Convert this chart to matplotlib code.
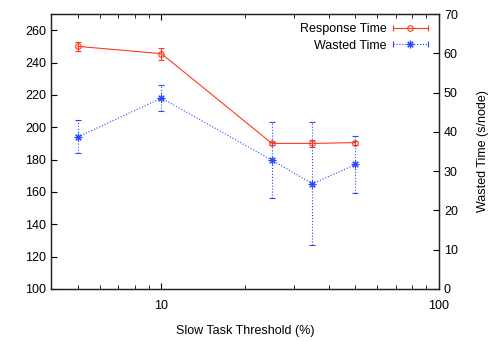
import matplotlib
matplotlib.use("Agg")
import matplotlib.pyplot as plt
from matplotlib.lines import Line2D
from matplotlib.legend_handler import HandlerBase
from matplotlib.ticker import FixedLocator, FixedFormatter, LogLocator, NullFormatter

plt.rcParams['font.family'] = ['Liberation Sans', 'DejaVu Sans']

thresholds = [5, 10, 25, 35, 50]
response = [250.0, 245.5, 190.0, 190.0, 190.5]
response_err = [3.0, 3.7, 1.0, 2.2, 1.2]
wasted = [38.7, 48.6, 32.8, 26.8, 31.7]
wasted_err = [4.2, 3.3, 9.6, 15.7, 7.3]

x_ticks = [10, 100]
x_ticklabels = ["10", "100"]
left_ticks = list(range(100, 261, 20))
right_ticks = list(range(0, 71, 10))

RED = '#ff3a20'
BLUE = '#2848ff'


class HandlerCapLine(HandlerBase):
    def __init__(self, color, ls, marker, ms, mfc):
        super().__init__()
        self.color, self.ls, self.marker, self.ms, self.mfc = color, ls, marker, ms, mfc

    def create_artists(self, legend, orig_handle, xdescent, ydescent, width, height, fontsize, trans):
        y = height / 2 - ydescent
        x0, x1 = -xdescent, width - xdescent
        line = Line2D([x0, x1], [y, y], color=self.color, ls=self.ls, lw=0.8)
        caps = Line2D([x0, x1], [y, y], color=self.color, ls='none', marker='|',
                      markersize=5, markeredgewidth=0.8)
        mk = Line2D([(x0 + x1) / 2], [y], color=self.color, ls='none', marker=self.marker,
                    markersize=self.ms, markerfacecolor=self.mfc, markeredgewidth=0.8)
        for a in (line, caps, mk):
            a.set_transform(trans)
        return [line, caps, mk]


fig = plt.figure(figsize=(5.0, 3.42), dpi=100)
ax = fig.add_axes([0.102, 0.155, 0.776, 0.804])
ax2 = ax.twinx()

ax.set_xscale('log')
ax.set_xlim(4, 100)
ax.set_ylim(100, 270)
ax2.set_ylim(0, 70)

e1 = ax.errorbar(thresholds, response, yerr=response_err, color=RED, lw=0.8,
                 marker='o', markersize=4, markerfacecolor='none', markeredgewidth=0.8,
                 capsize=2.5, capthick=0.8, elinewidth=0.8)
e2 = ax2.errorbar(thresholds, wasted, yerr=wasted_err, color=BLUE, lw=0.8, ls=':',
                  marker=(8, 2, 0), markersize=5.5, markeredgewidth=0.8,
                  capsize=2.5, capthick=0.8, elinewidth=0.8)
for lc in e2[2]:
    lc.set_linestyle(':')

ax.xaxis.set_major_locator(FixedLocator(x_ticks))
ax.xaxis.set_major_formatter(FixedFormatter(x_ticklabels))
ax.xaxis.set_minor_locator(LogLocator(base=10, subs=range(2, 10)))
ax.xaxis.set_minor_formatter(NullFormatter())
ax.set_yticks(left_ticks)
ax2.set_yticks(right_ticks)

ax.tick_params(axis='x', which='both', direction='in', top=True, bottom=True, labelsize=9, pad=8)
ax.tick_params(axis='x', which='major', length=4)
ax.tick_params(axis='x', which='minor', length=3)
ax.tick_params(axis='y', which='both', direction='in', left=True, right=False, length=4, labelsize=9)
ax2.tick_params(axis='y', which='both', direction='in', right=True, left=False, length=4, labelsize=9)

for a in (ax, ax2):
    for s in a.spines.values():
        s.set_linewidth(0.9)
        s.set_color('#222222')

ax.set_xlabel('Slow Task Threshold (%)', fontsize=9, labelpad=9)
ax2.set_ylabel('Wasted Time (s/node)', fontsize=9, labelpad=14)

h1 = Line2D([], [])
h2 = Line2D([], [])
ax2.legend([h1, h2], ['Response Time', 'Wasted Time'], loc='upper right', frameon=False,
           markerfirst=False, fontsize=9, handlelength=2.8, handletextpad=0.5,
           borderaxespad=0.35, labelspacing=0.35, bbox_to_anchor=(0.995, 1.0),
           handler_map={h1: HandlerCapLine(RED, '-', 'o', 4, 'none'),
                        h2: HandlerCapLine(BLUE, ':', (8, 2, 0), 5.5, BLUE)})

fig.savefig('out.png', dpi=100)
